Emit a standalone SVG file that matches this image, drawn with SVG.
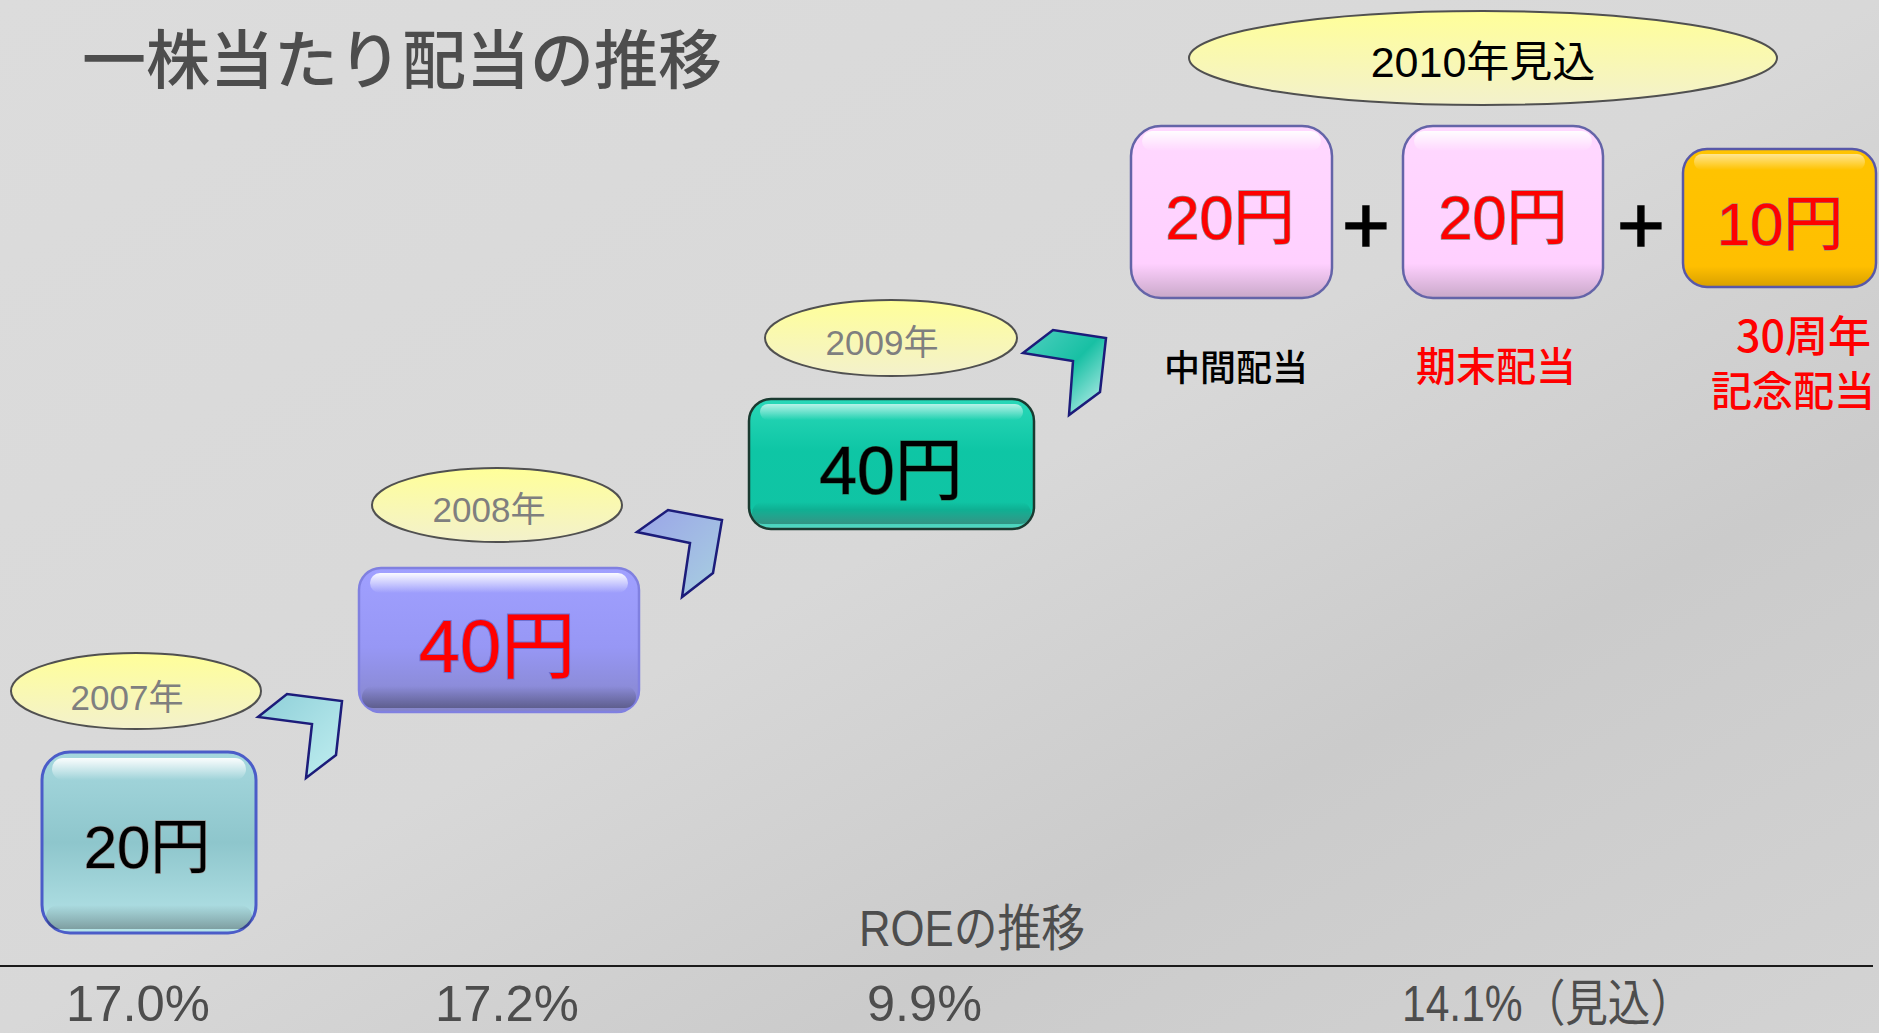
<svg xmlns="http://www.w3.org/2000/svg" width="1879" height="1033" viewBox="0 0 1879 1033">
<defs>
<linearGradient id="bg" x1="0" y1="0" x2="1" y2="1">
<stop offset="0" stop-color="#dcdcdc"/><stop offset="0.5" stop-color="#d8d8d8"/><stop offset="0.72" stop-color="#cbcbcb"/><stop offset="1" stop-color="#d3d3d3"/>
</linearGradient>
<linearGradient id="ellG" x1="0" y1="0" x2="0" y2="1"><stop offset="0" stop-color="#ffff99"/><stop offset="1" stop-color="#f3f1cc"/></linearGradient>
<linearGradient id="tealG" x1="0" y1="0" x2="0" y2="1"><stop offset="0" stop-color="#a6d8de"/><stop offset="0.5" stop-color="#8ec6cc"/><stop offset="1" stop-color="#b6e4e8"/></linearGradient>
<linearGradient id="purpG" x1="0" y1="0" x2="0" y2="1"><stop offset="0" stop-color="#a0a0ff"/><stop offset="0.55" stop-color="#9797f5"/><stop offset="1" stop-color="#8585c8"/></linearGradient>
<linearGradient id="greenG" x1="0" y1="0" x2="0" y2="1"><stop offset="0" stop-color="#2ad8b8"/><stop offset="0.4" stop-color="#0ec6a5"/><stop offset="0.85" stop-color="#10c4a4"/><stop offset="1" stop-color="#5ad8c4"/></linearGradient>
<linearGradient id="pinkG" x1="0" y1="0" x2="0" y2="1"><stop offset="0" stop-color="#ffd8ff"/><stop offset="0.8" stop-color="#ffd0ff"/><stop offset="1" stop-color="#c8a8c8"/></linearGradient>
<linearGradient id="orG" x1="0" y1="0" x2="0" y2="1"><stop offset="0" stop-color="#ffc400"/><stop offset="0.85" stop-color="#ffbf00"/><stop offset="1" stop-color="#d8a000"/></linearGradient>
<linearGradient id="shine" x1="0" y1="0" x2="0" y2="1"><stop offset="0" stop-color="#ffffff" stop-opacity="0.95"/><stop offset="1" stop-color="#ffffff" stop-opacity="0"/></linearGradient>
<linearGradient id="shade" x1="0" y1="0" x2="0" y2="1"><stop offset="0" stop-color="#000000" stop-opacity="0"/><stop offset="1" stop-color="#000000" stop-opacity="0.3"/></linearGradient>
<linearGradient id="chev1" x1="0" y1="0" x2="1" y2="1"><stop offset="0" stop-color="#8ecfd8"/><stop offset="1" stop-color="#c0eef0"/></linearGradient>
<linearGradient id="chev2" x1="0" y1="0" x2="1" y2="1"><stop offset="0" stop-color="#9aa4e8"/><stop offset="1" stop-color="#a8d0e0"/></linearGradient>
<linearGradient id="chev3" x1="0" y1="0" x2="1" y2="1"><stop offset="0" stop-color="#50d0c0"/><stop offset="0.5" stop-color="#18c0a4"/><stop offset="1" stop-color="#d0f4f4"/></linearGradient>
<style>
.t{font-family:"Liberation Sans","Noto Sans CJK JP",sans-serif;}
.j{font-family:"Noto Sans CJK JP",sans-serif;}
.ell{fill:url(#ellG);stroke:#505050;stroke-width:2;}
.yr{font-size:35px;fill:#7f7f7f;text-anchor:middle;}
.big{text-anchor:middle;paint-order:stroke;}
.chev{stroke:#1c1c7a;stroke-width:2.5;stroke-linejoin:miter;}
.lab{text-anchor:middle;}
.roe{font-size:50px;fill:#4d4d4d;}
</style>
</defs>
<rect x="0" y="0" width="1879" height="1033" fill="url(#bg)"/>

<g id="title">
<text class="j" x="82" y="83" font-size="64" font-weight="500" fill="#4d4d4d">一株当たり配当の推移</text>
</g>

<g id="connectors">
<polygon class="chev" fill="url(#chev1)" points="258,717 287,694 342,701 336,755 306,778 312,724"/>
<polygon class="chev" fill="url(#chev2)" points="637,532 668,510 722,520 713,573 682,597 690,543"/>
<polygon class="chev" fill="url(#chev3)" points="1023,353 1053,330 1106,338 1100,392 1069,415 1073,361"/>
</g>

<g id="y2007">
<ellipse class="ell" cx="136" cy="691" rx="125" ry="38"/>
<text class="t yr" x="127" y="710">2007年</text>
</g>
<g id="b2007">
<rect x="42" y="752" width="214" height="181" rx="28" fill="url(#tealG)" stroke="#4b5cc8" stroke-width="3"/>
<rect x="52" y="758" width="194" height="22" rx="11" fill="url(#shine)"/>
<rect x="46" y="905" width="206" height="24" rx="12" fill="url(#shade)"/>
<text class="t big" x="147" y="868" font-size="60" fill="#000" stroke="#9a9a9a" stroke-width="1.5">20円</text>
</g>

<g id="y2008">
<ellipse class="ell" cx="497" cy="505" rx="125" ry="37"/>
<text class="t yr" x="489" y="522">2008年</text>
</g>
<g id="b2008">
<rect x="359" y="568" width="280" height="144" rx="22" fill="url(#purpG)" stroke="#8080e0" stroke-width="2.5"/>
<rect x="370" y="573" width="258" height="20" rx="10" fill="url(#shine)"/>
<rect x="362" y="686" width="274" height="22" rx="11" fill="url(#shade)"/>
<text class="t big" x="497" y="672" font-size="74" fill="#ff0000" stroke="#7070d0" stroke-width="2">40円</text>
</g>

<g id="y2009">
<ellipse class="ell" cx="891" cy="338" rx="126" ry="38"/>
<text class="t yr" x="882" y="355">2009年</text>
</g>
<g id="b2009">
<rect x="749" y="399" width="285" height="130" rx="22" fill="url(#greenG)" stroke="#1a3a30" stroke-width="2.5"/>
<rect x="760" y="404" width="263" height="16" rx="8" fill="url(#shine)" opacity="0.7"/>
<rect x="752" y="502" width="279" height="22" rx="11" fill="url(#shade)"/>
<text class="t big" x="891" y="494" font-size="68" fill="#000" stroke="#2a6a4a" stroke-width="1.2">40円</text>
</g>

<g id="y2010">
<ellipse class="ell" cx="1483" cy="58" rx="294" ry="47"/>
<text class="t" x="1483" y="77" font-size="43" fill="#000" text-anchor="middle">2010年見込</text>
</g>

<g id="interim">
<rect x="1131" y="126" width="201" height="172" rx="30" fill="url(#pinkG)" stroke="#6464a8" stroke-width="2.5"/>
<rect x="1142" y="131" width="179" height="20" rx="10" fill="url(#shine)"/>
<text class="t big" x="1230" y="239" font-size="61" fill="#ff0000" stroke="#8a8a8a" stroke-width="1.5">20円</text>
<text class="j lab" x="1236" y="381" font-size="36" font-weight="500" fill="#000">中間配当</text>
</g>

<g id="plus1"><text class="t" x="1366" y="253" font-size="82" text-anchor="middle" fill="#000" stroke="#000" stroke-width="1.5">+</text></g>

<g id="yearend">
<rect x="1403" y="126" width="200" height="172" rx="30" fill="url(#pinkG)" stroke="#6464a8" stroke-width="2.5"/>
<rect x="1414" y="131" width="178" height="20" rx="10" fill="url(#shine)"/>
<text class="t big" x="1503" y="239" font-size="61" fill="#ff0000" stroke="#8a8a8a" stroke-width="1.5">20円</text>
<text class="j lab" x="1496" y="381" font-size="40" font-weight="500" fill="#ff0000">期末配当</text>
</g>

<g id="plus2"><text class="t" x="1641" y="253" font-size="82" text-anchor="middle" fill="#000" stroke="#000" stroke-width="1.5">+</text></g>

<g id="anniv">
<rect x="1683" y="149" width="193" height="138" rx="24" fill="url(#orG)" stroke="#5858a8" stroke-width="2.5"/>
<rect x="1694" y="154" width="171" height="16" rx="8" fill="url(#shine)" opacity="0.6"/>
<text class="t big" x="1780" y="245" font-size="60" fill="#ff0000" stroke="#8a8a8a" stroke-width="1.2">10円</text>
<text class="j" x="1871" y="352" font-size="43" font-weight="500" fill="#ff0000" text-anchor="end">30周年</text>
<text class="j" x="1875" y="406" font-size="41" font-weight="500" fill="#ff0000" text-anchor="end">記念配当</text>
</g>

<g id="roe">
<text class="t roe" x="859" y="946" textLength="226" lengthAdjust="spacingAndGlyphs">ROEの推移</text>
<line x1="0" y1="966" x2="1873" y2="966" stroke="#1a1a1a" stroke-width="2"/>
<text class="t roe" x="66" y="1021" textLength="144" lengthAdjust="spacingAndGlyphs">17.0%</text>
<text class="t roe" x="435" y="1021" textLength="144" lengthAdjust="spacingAndGlyphs">17.2%</text>
<text class="t roe" x="867" y="1021" textLength="115" lengthAdjust="spacingAndGlyphs">9.9%</text>
<text class="t roe" x="1402" y="1021" textLength="291" lengthAdjust="spacingAndGlyphs">14.1%（見込）</text>
</g>
</svg>
